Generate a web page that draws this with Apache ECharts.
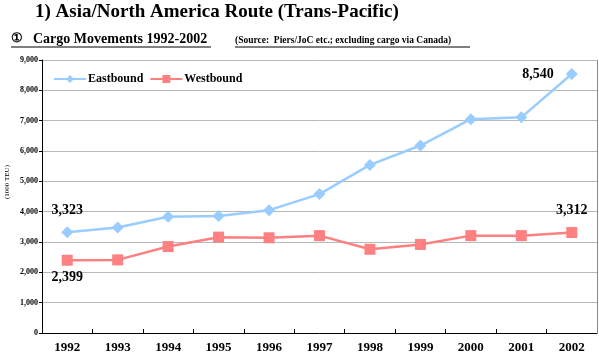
<!DOCTYPE html>
<html><head><meta charset="utf-8">
<script src="https://cdn.jsdelivr.net/npm/echarts@6/dist/echarts.min.js"></script>
<style>html,body{margin:0;padding:0;background:#fff}#c{width:599px;height:359px}</style>
</head><body><div id="c"></div>
<script>
const years = ['1992','1993','1994','1995','1996','1997','1998','1999','2000','2001','2002'];
const eastbound = [3323, 3480, 3830, 3860, 4050, 4580, 5540, 6180, 7050, 7110, 8540];
const westbound = [2399, 2410, 2850, 3160, 3140, 3210, 2760, 2920, 3210, 3210, 3312];
const yTicks = [0, 1000, 2000, 3000, 4000, 5000, 6000, 7000, 8000, 9000];

const F = '"Liberation Serif","Times New Roman",serif';
const fmt = v => v.toLocaleString('en-US');
const chart = echarts.init(document.getElementById('c'));

const lbl = (pos, dist) => ({show: true, position: pos, distance: dist, formatter: p => fmt(p.value),
  fontFamily: F, fontWeight: 'bold', fontSize: 14, color: '#000'});
const eData = eastbound.map((v, i) => {
  if (i === 0) return {value: v, label: lbl('top', 9)};
  if (i === eastbound.length - 1) return {value: v, label: lbl('left', 12)};
  return v;
});
const wData = westbound.map((v, i) => {
  if (i === 0) return {value: v, label: lbl('bottom', 5)};
  if (i === westbound.length - 1) return {value: v, label: lbl('top', 10)};
  return v;
});

chart.setOption({
  animation: false,
  grid: {left: 42, right: 2, top: 60, bottom: 26},
  graphic: [
    {type: 'text', left: 35, top: 3, style: {text: '1) Asia/North America Route (Trans-Pacific)', font: 'bold 19px ' + F, fill: '#000'}},
    {type: 'text', left: 11, top: 32, style: {text: '①', font: 'bold 13px ' + F, fill: '#000'}},
    {type: 'text', left: 33, top: 32, style: {text: 'Cargo Movements 1992-2002', font: 'bold 14px ' + F, fill: '#000'}},
    {type: 'text', left: 235, top: 36, style: {text: '(Source:  Piers/JoC etc.; excluding cargo via Canada)', font: 'bold 9.5px ' + F, fill: '#000'}},
    {type: 'line', shape: {x1: 11, y1: 47, x2: 211, y2: 47}, style: {stroke: '#000', lineWidth: 1}},
    {type: 'line', shape: {x1: 235, y1: 47, x2: 470, y2: 47}, style: {stroke: '#000', lineWidth: 1}},
    {type: 'text', left: 4, top: 165, rotation: Math.PI / 2, style: {text: '(1000 TEU)', font: '7px ' + F, fill: '#000'}}
  ],
  legend: {
    left: 48, top: 68, itemWidth: 32, itemHeight: 10, itemGap: 6,
    textStyle: {fontFamily: F, fontWeight: 'bold', fontSize: 12, color: '#000', padding: [0, 0, 0, -3]},
    data: ['Eastbound', 'Westbound']
  },
  xAxis: {
    type: 'category', data: years, boundaryGap: true,
    axisLine: {lineStyle: {color: '#000', width: 1}},
    axisTick: {show: true, inside: true, length: 4, lineStyle: {color: '#000'}},
    axisLabel: {fontFamily: F, fontWeight: 'bold', fontSize: 13, color: '#000', margin: 8}
  },
  yAxis: {
    type: 'value', min: 0, max: 9000, interval: 1000,
    axisLine: {show: true, lineStyle: {color: '#000'}},
    axisTick: {show: true, length: 3, lineStyle: {color: '#000'}},
    splitLine: {lineStyle: {color: '#b8b8b8', width: 1}},
    axisLabel: {fontFamily: F, fontWeight: 'bold', fontSize: 8, color: '#000', margin: 4,
      formatter: v => yTicks.includes(v) ? fmt(v) : ''}
  },
  series: [
    {name: 'Eastbound', type: 'line', data: eData, symbol: 'diamond', symbolSize: 12,
      lineStyle: {color: '#99ccff', width: 2.5}, itemStyle: {color: '#99ccff'}},
    {name: 'Westbound', type: 'line', data: wData, symbol: 'rect', symbolSize: 11,
      lineStyle: {color: '#ff8080', width: 2.5}, itemStyle: {color: '#ff8080'}},
    {type: 'line', data: [], markLine: {silent: true, symbol: 'none', label: {show: false},
      lineStyle: {color: '#888', type: 'solid', width: 1}, data: [[{x: 597, y: 60}, {x: 597, y: 333}]]}}
  ]
});
</script></body></html>
